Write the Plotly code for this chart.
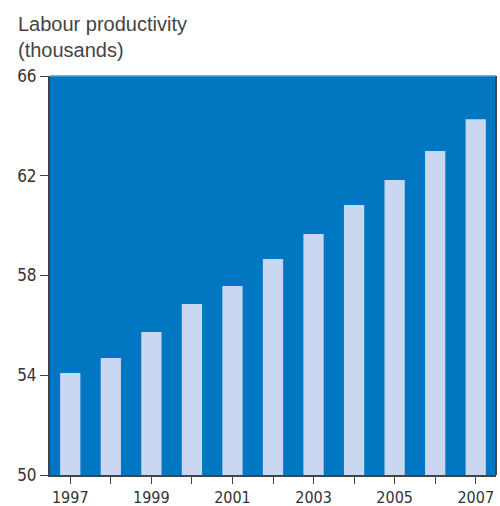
import plotly.graph_objects as go

years = ["1997", "1998", "1999", "2000", "2001", "2002", "2003", "2004", "2005", "2006", "2007"]
productivity = [54.09, 54.69, 55.73, 56.86, 57.58, 58.66, 59.66, 60.83, 61.83, 62.99, 64.27]
y_ticks = [50, 54, 58, 62, 66]
x_labels = [y if i % 2 == 0 else "" for i, y in enumerate(years)]

W, H = 500, 506
L, R, T, B = 50, 4, 76, 31

fig = go.Figure(
    go.Bar(
        x=years,
        y=productivity,
        marker=dict(color="#C8D7EF", line=dict(width=0)),
        width=0.5,
    )
)

fig.update_layout(
    width=W,
    height=H,
    margin=dict(l=L, r=R, t=T, b=B, autoexpand=False),
    paper_bgcolor="white",
    plot_bgcolor="#0077C0",
    showlegend=False,
    font=dict(family="DejaVu Sans Condensed, sans-serif", color="#333333", size=16),
    annotations=[
        dict(
            text="Labour productivity<br>(thousands)",
            xref="paper", yref="paper",
            x=(16 - L) / (W - L - R), y=1 + (T - 11) / (H - T - B),
            xanchor="left", yanchor="top", align="left", showarrow=False,
            font=dict(family="Liberation Sans, Arial, sans-serif", size=20, color="#444444"),
        )
    ],
    shapes=[
        dict(type="line", xref="paper", yref="paper", x0=1, x1=1, y0=0, y1=1,
             line=dict(color="#444444", width=2)),
        dict(type="line", xref="paper", yref="paper", x0=0, x1=1, y0=1, y1=1,
             line=dict(color="#4A9AD0", width=1.5)),
    ],
)

fig.update_xaxes(
    type="category",
    automargin=False,
    tickmode="array",
    tickvals=years,
    ticktext=x_labels,
    ticks="outside",
    ticklen=7,
    tickcolor="#444444",
    showline=True,
    linecolor="#444444",
    linewidth=2,
    showgrid=False,
    tickfont=dict(size=16, color="#333333"),
)

fig.update_yaxes(
    range=[50, 66],
    automargin=False,
    tickvals=y_ticks,
    ticks="outside",
    ticklen=8,
    tickcolor="#444444",
    showline=True,
    linecolor="#444444",
    linewidth=2,
    showgrid=False,
    zeroline=False,
    tickfont=dict(size=17, color="#333333"),
)

fig.write_html("out.html")
